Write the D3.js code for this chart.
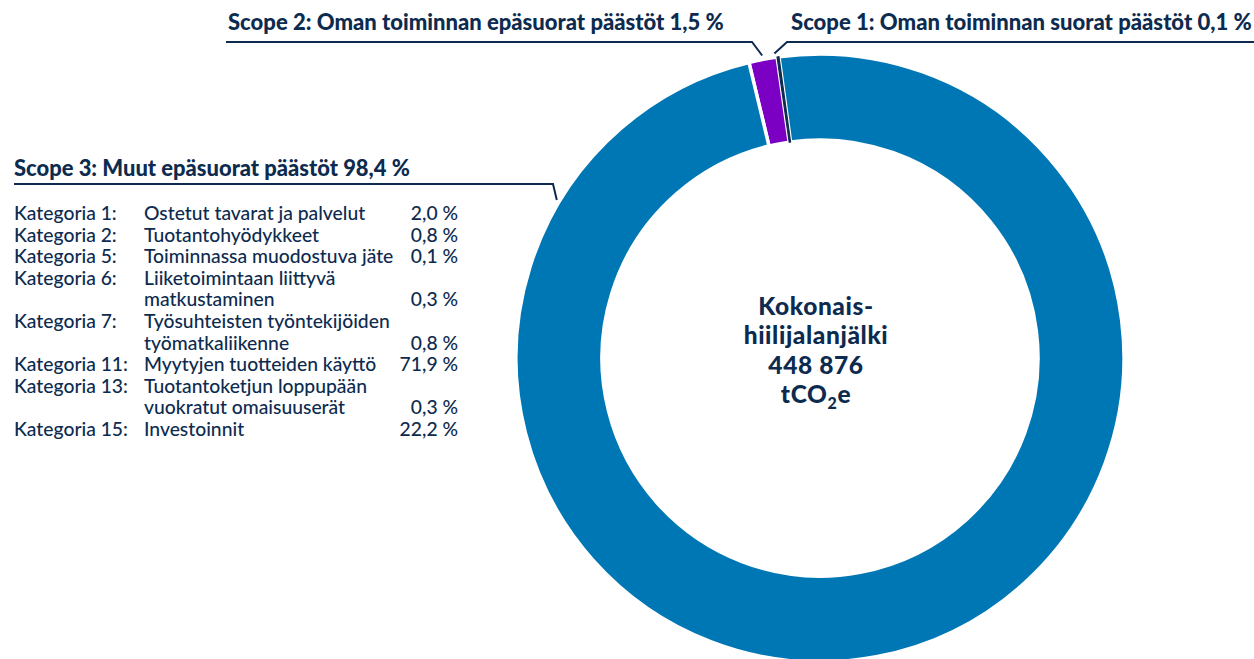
<!DOCTYPE html>
<html>
<head>
<meta charset="utf-8">
<script src="https://cdn.jsdelivr.net/npm/d3@7"></script>
<style>
  html, body { margin: 0; padding: 0; background: #fff; }
  svg text { font-family: Lato, "Open Sans", sans-serif; fill: #0d2b4f; }
</style>
</head>
<body>
<div id="chart"></div>
<script>
// data
var scopeNames = ["Scope 1: Oman toiminnan suorat päästöt", "Scope 2: Oman toiminnan epäsuorat päästöt", "Scope 3: Muut epäsuorat päästöt"];
var scopeShares = [0.1, 1.5, 98.4];
var scopeColors = ["#0d2b4f", "#7b00c3", "#0077b5"];
var catLabels = ["Kategoria 1:", "Kategoria 2:", "Kategoria 5:", "Kategoria 6:", "Kategoria 7:", "Kategoria 11:", "Kategoria 13:", "Kategoria 15:"];
var catNames = [
  ["Ostetut tavarat ja palvelut"],
  ["Tuotantohyödykkeet"],
  ["Toiminnassa muodostuva jäte"],
  ["Liiketoimintaan liittyvä", "matkustaminen"],
  ["Työsuhteisten työntekijöiden", "työmatkaliikenne"],
  ["Myytyjen tuotteiden käyttö"],
  ["Tuotantoketjun loppupään", "vuokratut omaisuuserät"],
  ["Investoinnit"]
];
var catShares = [2.0, 0.8, 0.1, 0.3, 0.8, 71.9, 0.3, 22.2];
var totalLines = ["Kokonais-", "hiilijalanjälki", "448 876"];

var W = 1254, H = 659;
var cx = 820, cy = 358, rOut = 304, rIn = 218;
var navy = "#0d2b4f";

function pct(v) { return v.toFixed(1).replace(".", ",") + "\u00a0%"; }

var svg = d3.select("#chart").append("svg")
  .attr("width", W).attr("height", H);

// donut: clockwise scope 2, scope 1, scope 3
var order = [1, 0, 2];
var a0 = -0.236;
var pie = d3.pie().sort(null).value(function(i){ return scopeShares[i]; })
  .startAngle(a0).endAngle(a0 + 2 * Math.PI);
var arcs = pie(order);
var arc = d3.arc().innerRadius(rIn).outerRadius(rOut);

var g = svg.append("g").attr("transform", "translate(" + cx + "," + cy + ")");
// big slices first, the thin one on top
arcs.filter(function(d){ return d.data !== 0; }).forEach(function(d){
  g.append("path").attr("d", arc(d)).attr("fill", scopeColors[d.data])
    .attr("stroke", "#fff").attr("stroke-width", 3.5);
});
arcs.filter(function(d){ return d.data === 0; }).forEach(function(d){
  g.append("path").attr("d", arc(d)).attr("fill", scopeColors[0])
    .attr("stroke", scopeColors[0]).attr("stroke-width", 1.2);
});

function tip(i, r, da) {
  var d = arcs.filter(function(a){ return a.data === i; })[0];
  var a = (d.startAngle + d.endAngle) / 2 + (da || 0);
  return [cx + Math.sin(a) * r, cy - Math.cos(a) * r];
}

// fit a text to a given width by changing font-size
function fit(t, w) {
  var len = t.node().getComputedTextLength();
  var fs = parseFloat(t.attr("font-size"));
  t.attr("font-size", (fs * w / len).toFixed(2));
  return t;
}

// scope labels and leaders
var lead = svg.append("g").attr("fill", "none").attr("stroke", navy).attr("stroke-width", 2);

var t2 = svg.append("text").attr("x", 228).attr("y", 30).attr("font-size", 20).attr("font-weight", 900)
  .text(scopeNames[1] + " " + pct(scopeShares[1]));
fit(t2, 496);
var p2 = tip(1, rOut + 4);
lead.append("polyline").attr("points", [[226, 42], [752, 42], p2].join(" "));

var t1 = svg.append("text").attr("x", 791).attr("y", 30).attr("font-size", 20).attr("font-weight", 900)
  .text(scopeNames[0] + " " + pct(scopeShares[0]));
fit(t1, 461);
var p1 = tip(0, rOut + 4, -0.01);
lead.append("polyline").attr("points", [[1254, 42], [787, 42], p1].join(" "));

var t3 = svg.append("text").attr("x", 14).attr("y", 176).attr("font-size", 20).attr("font-weight", 900)
  .text(scopeNames[2] + " " + pct(scopeShares[2]));
fit(t3, 396);
var a3 = -1.03;
lead.append("polyline").attr("points", [[14, 184], [553, 184],
  [cx + Math.sin(a3) * (rOut + 3), cy - Math.cos(a3) * (rOut + 3)]].join(" "));

// category table
var rowH = 21.6, y0 = 220;
var tbl = svg.append("g").attr("font-size", 16.5).attr("font-weight", 500);
var row = 0;
catLabels.forEach(function(lab, i){
  var y = y0 + row * rowH;
  tbl.append("text").attr("x", 14).attr("y", y).text(lab);
  catNames[i].forEach(function(line, j){
    tbl.append("text").attr("x", 144).attr("y", y + j * rowH).text(line);
  });
  var last = y + (catNames[i].length - 1) * rowH;
  tbl.append("text").attr("x", 458).attr("y", last).attr("text-anchor", "end").text(pct(catShares[i]));
  row += catNames[i].length;
});
// scale table to width of the widest row label
var kw = tbl.selectAll("text").filter(function(){ return this.textContent === "Kategoria 15:"; }).node().getComputedTextLength();
tbl.attr("font-size", (16.5 * 114 / kw).toFixed(2));

// centre text
var ctr = svg.append("g").attr("font-weight", 900).attr("text-anchor", "middle").attr("font-size", 24.5);
var cys = [315, 344, 374];
totalLines.forEach(function(s, i){
  ctr.append("text").attr("x", 816).attr("y", cys[i]).attr("letter-spacing", 0.6).text(s);
});
var unit = ctr.append("text").attr("x", 816).attr("y", 403).attr("letter-spacing", 0.6);
unit.append("tspan").text("tCO");
unit.append("tspan").attr("font-size", 16).attr("dy", 6).text("2");
unit.append("tspan").attr("dy", -6).text("e");
</script>
</body>
</html>
